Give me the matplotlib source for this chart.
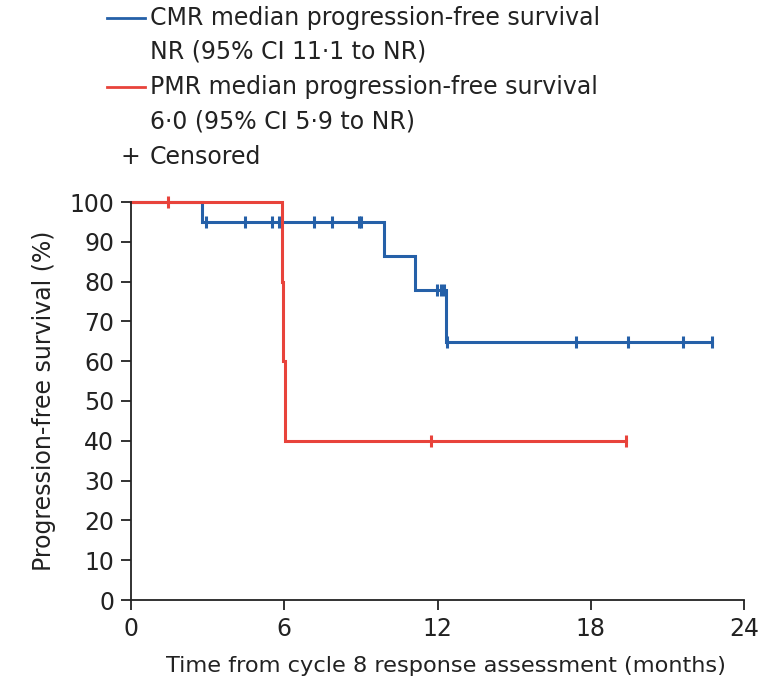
import matplotlib
matplotlib.use("Agg")
import matplotlib.pyplot as plt
from matplotlib.lines import Line2D

plt.rcParams["font.family"] = ["DejaVu Sans"]

# ── data (months, % progression-free) ────────────────────────────────────────
cmr_event_t = [0, 2.78, 9.9, 11.12, 12.33]
cmr_event_s = [100, 95.0, 86.4, 77.8, 64.8]
cmr_censor_t = [2.94, 4.46, 5.53, 5.79, 7.15, 7.87, 8.91, 8.99,
                11.99, 12.14, 12.26, 12.38, 17.41, 19.45, 21.6, 22.76]
cmr_end = 22.76

pmr_event_t = [0, 5.92, 5.97, 6.02]
pmr_event_s = [100, 80, 60, 40]
pmr_censor_t = [1.44, 11.73, 19.37]
pmr_end = 19.37

x_ticks = [0, 6, 12, 18, 24]
y_ticks = list(range(0, 101, 10))

BLUE = "#2560a8"
RED = "#e8433b"


def step_curve(times, surv, end):
    xs, ys = [], []
    for i, (t, s) in enumerate(zip(times, surv)):
        if i > 0:
            xs.append(t)
            ys.append(surv[i - 1])
        xs.append(t)
        ys.append(s)
    xs.append(end)
    ys.append(surv[-1])
    return xs, ys


def surv_at(times, surv, t):
    val = surv[0]
    for ti, si in zip(times, surv):
        if ti <= t:
            val = si
    return val


fig = plt.figure(figsize=(7.65, 6.88), dpi=100)
ax = fig.add_axes([131 / 765, 1 - 600 / 688, (744 - 131) / 765, (600 - 202) / 688])

# blue first so the red 100% segment sits on top
for times, surv, end, cens, col in [
    (cmr_event_t, cmr_event_s, cmr_end, cmr_censor_t, BLUE),
    (pmr_event_t, pmr_event_s, pmr_end, pmr_censor_t, RED),
]:
    xs, ys = step_curve(times, surv, end)
    ax.plot(xs, ys, color=col, lw=2.2, solid_joinstyle="miter", clip_on=False)
    cy = [surv_at(times, surv, t) for t in cens]
    ax.plot(cens, cy, ls="none", marker="|", ms=9, mew=2.2, color=col, clip_on=False)

ax.set_xlim(0, 24)
ax.set_ylim(0, 100)
ax.set_xticks(x_ticks)
ax.set_yticks(y_ticks)
ax.spines["top"].set_visible(False)
ax.spines["right"].set_visible(False)
for sp in ("left", "bottom"):
    ax.spines[sp].set_linewidth(1.3)
    ax.spines[sp].set_color("#222222")
ax.tick_params(direction="out", length=7, width=1.3, color="#222222",
               labelsize=17, labelcolor="#222222", pad=5)
ax.set_xlabel("Time from cycle 8 response assessment (months)", fontsize=16.2,
              color="#222222", labelpad=11)
ax.xaxis.label.set_x(0.514)
ax.set_ylabel("Progression-free survival (%)", fontsize=17, color="#222222",
              labelpad=10)

# ── legend block above the axes ──────────────────────────────────────────────
legend_rows = [
    ("CMR median progression-free survival", BLUE, 18),
    ("NR (95% CI 11·1 to NR)", None, 52),
    ("PMR median progression-free survival", RED, 87),
    ("6·0 (95% CI 5·9 to NR)", None, 122),
    ("Censored", "+", 157),
]
for text, mark, ypx in legend_rows:
    yf = 1 - ypx / 688
    if mark == "+":
        fig.text(130 / 765, yf, "+", fontsize=17, color="#222222",
                 ha="center", va="center")
    elif mark is not None:
        fig.add_artist(Line2D([107 / 765, 145 / 765], [yf, yf], color=mark, lw=2.0))
    fig.text(150 / 765, yf, text, fontsize=17, color="#222222",
             ha="left", va="center")

fig.savefig("out.png", dpi=100)
